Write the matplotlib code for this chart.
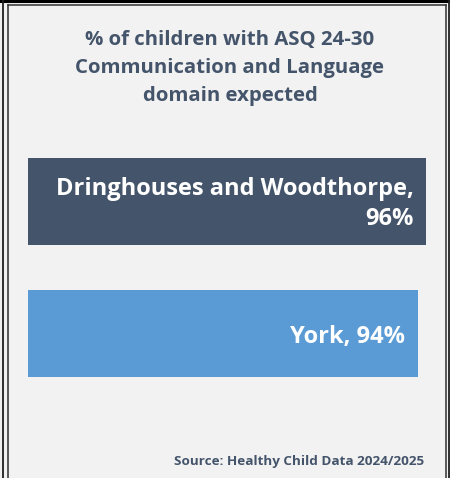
import matplotlib
matplotlib.use("Agg")
import matplotlib.pyplot as plt
from matplotlib.lines import Line2D

# data
categories = ["Dringhouses and Woodthorpe,\n96%", "York, 94%"]
values = [96, 94]
colors = ["#44546A", "#5B9BD5"]
title = "% of children with ASQ 24-30\nCommunication and Language\ndomain expected"
source = "Source: Healthy Child Data 2024/2025"

plt.rcParams['font.family'] = ['Open Sans', 'DejaVu Sans']

W, H = 450, 478
fig = plt.figure(figsize=(W / 100, H / 100), dpi=100)
fig.patch.set_facecolor("#F2F2F2")

# axes placed in pixel terms
left, right = 28, 28 + 414.6
top_px, bot_px = 130, 410
ax = fig.add_axes([left / W, 1 - bot_px / H, (right - left) / W, (bot_px - top_px) / H])
ax.set_facecolor("none")
ypos = [0, 1]
ax.barh(ypos, values, height=0.657, color=colors)
ax.set_xlim(0, 100)
ax.set_ylim(1.574, -0.54)
ax.axis("off")

for y, v, lab in zip(ypos, values, categories):
    ax.text(v - 3, y + 0.022, lab, ha="right", va="center", color="white",
            fontsize=17, fontweight="bold", linespacing=1.33)

fig.text(230 / W, 1 - 68 / H, title, ha="center", va="center",
         fontsize=14.7, fontweight="bold", color="#44546A", linespacing=1.5)
fig.text(424 / W, 1 - 461 / H, source, ha="right", va="center",
         fontsize=9.7, fontweight="bold", color="#44546A")

# double frame border
def px_line(xs, ys, lw, c):
    fig.add_artist(Line2D([x / W for x in xs], [1 - y / H for y in ys],
                          lw=lw, color=c, transform=fig.transFigure))

px_line([0, W], [1.2, 1.2], 2.2, "black")
px_line([2.5, 2.5], [0, H], 1.3, "#202020")
px_line([449, 449], [0, H], 1.3, "#202020")
px_line([7.5, 7.5], [5, H], 1.1, "#303030")
px_line([446, 446], [5, H], 1.1, "#303030")
px_line([7.5, 446], [5, 5], 1.1, "#303030")

fig.savefig("out.png", dpi=100, facecolor=fig.get_facecolor())
